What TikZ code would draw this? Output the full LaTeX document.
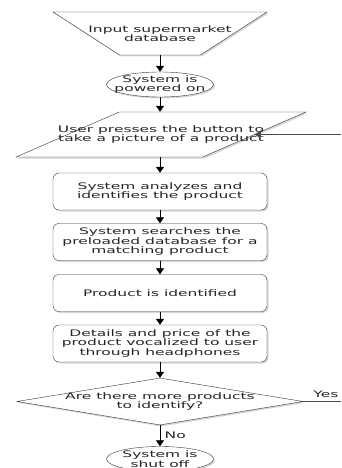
\documentclass[tikz,border=0pt]{standalone}
\usepackage{fontspec}
\newfontfamily\flowfont[FakeStretch=1.72]{DejaVu Sans}
\usepackage{tikz}
\usetikzlibrary{arrows.meta,positioning,shapes.geometric,shadows}

\tikzset{
  flowtext/.style={font=\flowfont\fontsize{9}{9.5}\selectfont,text=black!85,align=center},
  softshadow/.style={drop shadow={shadow xshift=1.5pt,shadow yshift=-1.5pt,fill=black!35,opacity=0.45}},
  outline/.style={draw=black!80,fill=white,softshadow,inner sep=1pt},
  manualin/.style={outline,trapezium,trapezium stretches=true,shape border rotate=180,
    trapezium left angle=50.5,trapezium right angle=50.5,minimum width=214pt,minimum height=43pt},
  terminal/.style={outline,ellipse,minimum width=107pt,minimum height=25pt},
  iobox/.style={outline,trapezium,trapezium stretches=true,
    trapezium left angle=39,trapezium right angle=141,minimum width=290pt,minimum height=45pt},
  process/.style={outline,flowtext,rectangle,rounded corners=6pt,minimum width=214pt,minimum height=37pt},
  decision/.style={outline,diamond,minimum width=286pt,minimum height=47pt},
  flow/.style={->,draw=black,line width=0.8pt},
}

\begin{document}
\begin{tikzpicture}[x=1pt,y=-1pt,>={Triangle[length=6pt,width=8pt]}]
  \useasboundingbox (0,0) rectangle (341,468);

  % steps
  \node[manualin,label={[flowtext]center:{Input supermarket\\database}}] (input) at (160,33.5) {};
  \node[terminal,label={[flowtext]center:{System is\\powered on}}] (poweron) at (160,84.5) {};
  \node[iobox,label={[flowtext]center:{User presses the button to\\take a picture of a product}}] (press) at (161,134.5) {};
  \node[process] (analyze) at (160,191.5) {System analyzes and\\identifies the product};
  \node[process] (search) at (160,242) {System searches the\\preloaded database for a\\matching product};
  \node[process] (found) at (160,293) {Product is identified};
  \node[process] (voice) at (160,343.5) {Details and price of the\\product vocalized to user\\through headphones};
  \node[decision,label={[flowtext]center:{Are there more products\\to identify?}}] (more) at (160,401.5) {};
  \node[terminal,label={[flowtext]center:{System is\\shut off}}] (shutoff) at (160,459) {};

  % loop ends at the cut edge
  \coordinate (edge) at (341,0);
  \coordinate (backin) at (press.right side -| edge);
  \coordinate (yesout) at (more.east -| edge);

  \draw[flow] (input.south) -- (poweron.north);
  \draw[flow] (poweron.south) -- (poweron.south |- press.north);
  \draw[flow] (poweron.south |- press.south) -- (analyze.north);
  \draw[flow] (analyze.south) -- (search.north);
  \draw[flow] (search.south) -- (found.north);
  \draw[flow] (found.south) -- (voice.north);
  \draw[flow] (voice.south) -- (more.north);
  \draw[flow] (more.south) -- node[flowtext,right=1pt] (nolbl) {No} (shutoff.north);
  \draw[line width=0.8pt,black!70] (more.east) -- node[flowtext,above,pos=0.6] (yeslbl) {Yes} (yesout);
  \draw[flow,black!70] (backin) -- (press.right side);
\end{tikzpicture}
\end{document}
